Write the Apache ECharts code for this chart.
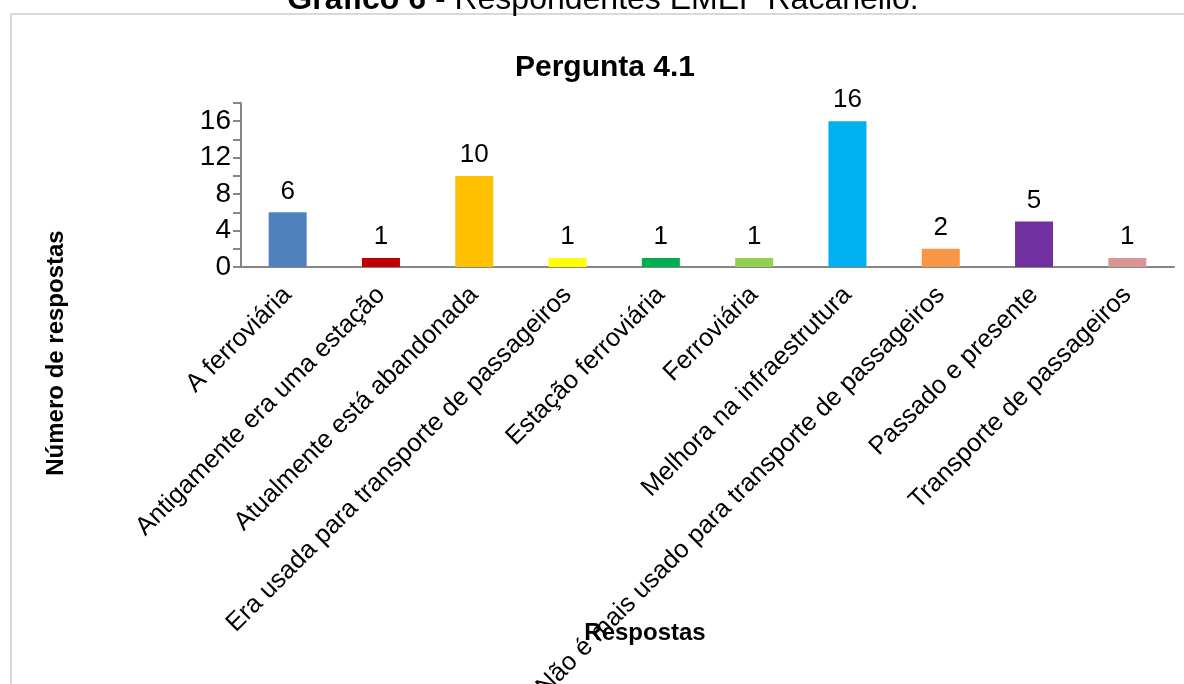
<!DOCTYPE html>
<html>
<head>
<meta charset="utf-8">
<script src="https://cdn.jsdelivr.net/npm/echarts@6/dist/echarts.min.js"></script>
<style>
  html, body { margin: 0; padding: 0; background: #ffffff; }
  #chart { width: 1184px; height: 684px; }
</style>
</head>
<body>
<div id="chart"></div>
<script>
// Respostas à pergunta 4.1
const categories = [
  'A ferroviária',
  'Antigamente era uma estação',
  'Atualmente está abandonada',
  'Era usada para transporte de passageiros',
  'Estação ferroviária',
  'Ferroviária',
  'Melhora na infraestrutura',
  'Não é mais usado para transporte de passageiros',
  'Passado e presente',
  'Transporte de passageiros'
];
const counts = [6, 1, 10, 1, 1, 1, 16, 2, 5, 1];
const barColors = [
  '#4f81bd', '#c00000', '#ffc000', '#ffff00', '#00b050',
  '#92d050', '#00b0f0', '#f79646', '#7030a0', '#d99694'
];

const FONT = "'Liberation Sans', Arial, sans-serif";

const chart = echarts.init(document.getElementById('chart'), null, { renderer: 'canvas' });

chart.setOption({
  backgroundColor: '#ffffff',
  animation: false,
  title: {
    text: 'Pergunta 4.1',
    left: 600,
    top: 48,
    textAlign: 'center',
    textStyle: { fontFamily: FONT, fontSize: 30, fontWeight: 'bold', color: '#000' }
  },
  graphic: [
    {
      type: 'rect',
      shape: { x: 11, y: 14, width: 1200, height: 700 },
      style: { fill: 'none', stroke: '#d9d9d9', lineWidth: 2 },
      silent: true
    },
    {
      type: 'text',
      x: 603,
      y: 16,
      style: {
        text: '{b|Gráfico 6} - Respondentes EMEF Racanello.',
        textAlign: 'center',
        textVerticalAlign: 'bottom',
        font: '32px ' + FONT,
        fill: '#000',
        rich: { b: { fontWeight: 'bold', fontSize: 32, fontFamily: FONT } }
      }
    },
    {
      type: 'text',
      x: 56,
      y: 353,
      rotation: Math.PI / 2,
      style: {
        text: 'Número de respostas',
        textAlign: 'center',
        textVerticalAlign: 'middle',
        font: 'bold 24px ' + FONT,
        fill: '#000'
      }
    },
    {
      type: 'text',
      x: 645,
      y: 633,
      style: {
        text: 'Respostas',
        textAlign: 'center',
        textVerticalAlign: 'middle',
        font: 'bold 24px ' + FONT,
        fill: '#000'
      }
    }
  ],
  grid: { left: 241, right: 10, top: 103, bottom: 417, outerBoundsMode: 'none' },
  xAxis: {
    type: 'category',
    data: categories,
    axisLine: { show: true, lineStyle: { color: '#868686', width: 2 } },
    axisTick: { show: false },
    axisLabel: {
      interval: 0,
      rotate: 45,
      margin: 24,
      fontFamily: FONT,
      fontSize: 25.5,
      color: '#000'
    }
  },
  yAxis: {
    type: 'value',
    min: 0,
    max: 18,
    interval: 2,
    splitLine: { show: false },
    axisLine: { show: true, lineStyle: { color: '#868686', width: 2 } },
    axisTick: { show: true, length: 8, lineStyle: { color: '#868686', width: 2 } },
    axisLabel: {
      margin: 10,
      fontFamily: FONT,
      fontSize: 28,
      color: '#000',
      formatter: v => (v % 4 === 0 ? String(v) : '')
    }
  },
  series: [{
    type: 'bar',
    barWidth: 38,
    data: counts.map((v, i) => ({ value: v, itemStyle: { color: barColors[i] } })),
    label: {
      show: true,
      position: 'top',
      distance: 8,
      fontFamily: FONT,
      fontSize: 26,
      color: '#000'
    }
  }]
});
</script>
</body>
</html>
